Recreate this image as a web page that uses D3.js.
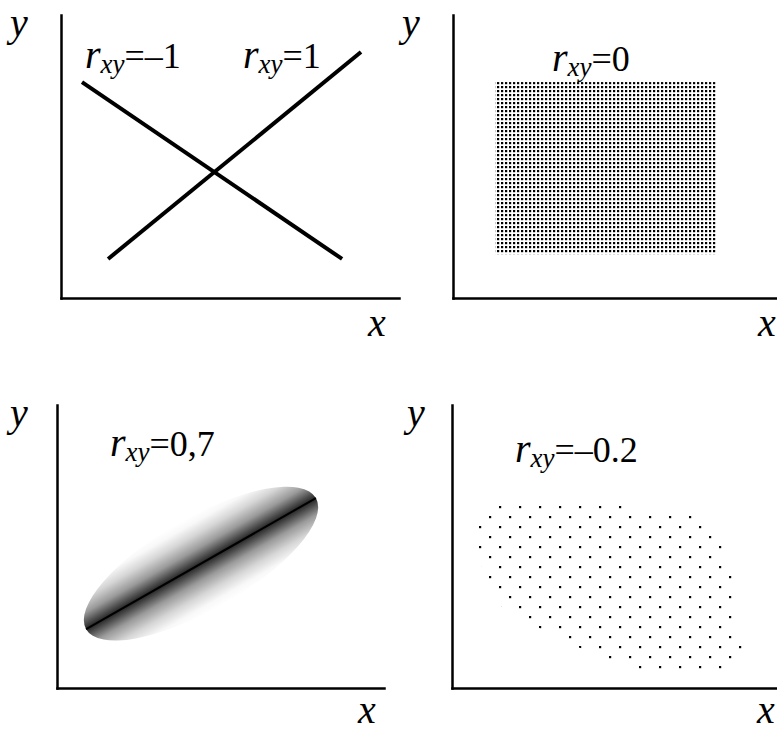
<!DOCTYPE html>
<html>
<head>
<meta charset="utf-8">
<script src="https://cdn.jsdelivr.net/npm/d3@7"></script>
</head>
<body style="margin:0">
<script>
/*
** Data - values, in axis units (x: 0..~11, y: 0..10)
*/
// panel A: two perfect correlations, straight lines
var lineNeg = [ { x: 0.70, y: 7.63 }, { x: 9.37, y: 1.38 } ]
  , linePos = [ { x: 1.57, y: 1.38 }, { x: 10.00, y: 8.69 } ]
;
// panel B: uniform cloud, no correlation
var cloudX = [1.40, 8.77]
  , cloudY = [1.55, 7.63]
;
// panel C: tight elliptical cloud, major axis end points + minor/major ratio
var ellipseAxis = [ { x: 0.97, y: 2.08 }, { x: 8.63, y: 6.71 } ]
  , ellipseRatio = 0.35
;
// panel D: weak negative cloud, outline of the dotted area
var weakCloud = [
      [1.50, 6.54], [5.93, 6.54], [6.00, 6.33], [8.27, 6.15], [8.67, 5.58]
    , [9.00, 5.05], [9.37, 3.99], [9.53, 1.70], [9.77, 1.34], [9.27, 0.60]
    , [6.10, 0.60], [4.93, 1.13], [3.60, 1.70], [2.43, 2.40], [1.77, 2.69]
    , [1.50, 3.11], [1.07, 3.99], [0.80, 5.05], [0.80, 5.87], [1.13, 6.22]
  ]
;
// correlation coefficients shown in each panel
var coefLabels = ["=\u20131", "=1", "=0", "=0,7", "=\u20130.2"];
var axisNames = { x: "x", y: "y" };

/*
** Layout
*/
var width = 777
  , height = 731
  , axisHeight = 283
  , unitX = 30 // px per x unit
  , panels = [
        { ox: 61,  oy: 298, len: 338, xl: 307, yl: -51, xb: 38 }
      , { ox: 453, oy: 298, len: 330, xl: 305, yl: -51, xb: 38 }
      , { ox: 57,  oy: 688, len: 327, xl: 301, yl: -47, xb: 35 }
      , { ox: 452, oy: 688, len: 330, xl: 305, yl: -45, xb: 35 }
    ]
  , labelPos = [
        { p: 0, dx: 24,  dy: -230 }
      , { p: 0, dx: 182, dy: -230 }
      , { p: 1, dx: 99,  dy: -227 }
      , { p: 2, dx: 53,  dy: -232 }
      , { p: 3, dx: 63,  dy: -226 }
    ]
;

var svg = d3.select("body").append("svg")
    .attr("width", width)
    .attr("height", height)
    .style("display", "block")
;

/*
** Texts - axis names and coefficient labels (default serif face)
*/
svg.selectAll("text.xname")
    .data(panels)
  .enter().append("text")
    .attr("class", "xname")
    .attr("x", function(d) { return d.ox + d.xl; })
    .attr("y", function(d) { return d.oy + d.xb; })
    .attr("font-size", 40)
    .attr("font-style", "italic")
    .text(axisNames.x)
;
svg.selectAll("text.yname")
    .data(panels)
  .enter().append("text")
    .attr("class", "yname")
    .attr("x", function(d) { return d.ox + d.yl; })
    .attr("y", function(d) { return d.oy - axisHeight + 21; })
    .attr("font-size", 40)
    .attr("font-style", "italic")
    .text(axisNames.y)
;
var lab = svg.selectAll("text.coef")
    .data(labelPos)
  .enter().append("text")
    .attr("class", "coef")
    .attr("x", function(d) { return panels[d.p].ox + d.dx; })
    .attr("y", function(d) { return panels[d.p].oy + d.dy; })
    .attr("font-size", 36)
;
lab.append("tspan")
    .attr("font-size", 40)
    .attr("font-style", "italic")
    .text("r")
;
lab.append("tspan")
    .attr("dy", 5)
    .attr("font-size", 27)
    .attr("font-style", "italic")
    .text("xy")
;
lab.append("tspan")
    .attr("dy", -5)
    .attr("font-size", 36)
    .text(function(d, i) { return coefLabels[i]; })
;

/*
** Fills
*/
var defs = svg.append("defs");

// dense dot texture (panel B)
defs.append("pattern")
    .attr("id", "dense")
    .attr("patternUnits", "userSpaceOnUse")
    .attr("width", 4).attr("height", 4)
  .append("rect")
    .attr("width", 2.2).attr("height", 2.2)
    .attr("fill", "#000")
;
// sparse staggered dot texture (panel D)
var sparse = defs.append("pattern")
    .attr("id", "sparse")
    .attr("patternUnits", "userSpaceOnUse")
    .attr("x", 33).attr("y", -186)
    .attr("width", 20).attr("height", 20)
;
sparse.selectAll("rect")
    .data([[14, 4], [4, 14]])
  .enter().append("rect")
    .attr("x", function(d) { return d[0]; })
    .attr("y", function(d) { return d[1]; })
    .attr("width", 2.2).attr("height", 2.2)
    .attr("fill", "#000")
;
// band gradient across the ellipse (panel C)
defs.append("linearGradient")
    .attr("id", "band")
    .attr("x1", 0).attr("y1", 0).attr("x2", 0).attr("y2", 1)
  .selectAll("stop")
    .data([
        [0, "#fff"], [0.08, "#f8f8f8"], [0.2, "#d6d6d6"], [0.34, "#9a9a9a"]
      , [0.44, "#505050"], [0.5, "#262626"], [0.56, "#505050"], [0.66, "#9a9a9a"]
      , [0.8, "#d6d6d6"], [0.92, "#f8f8f8"], [1, "#fff"]
    ])
  .enter().append("stop")
    .attr("offset", function(d) { return d[0]; })
    .attr("stop-color", function(d) { return d[1]; })
;

/*
** Panels
*/
var g = svg.selectAll("g.panel")
    .data(panels)
  .enter().append("g")
    .attr("class", "panel")
    .attr("transform", function(d) { return "translate(" + d.ox + "," + d.oy + ")"; })
    .each(function(d) {
        d.x = d3.scaleLinear().domain([0, d.len / unitX]).range([0, d.len]);
        d.y = d3.scaleLinear().domain([0, 10]).range([0, -axisHeight]);
      })
;

// panel A - the two lines
var line = d3.line()
    .x(function(d) { return panels[0].x(d.x); })
    .y(function(d) { return panels[0].y(d.y); })
;
g.filter(function(d, i) { return i === 0; })
  .selectAll("path.fit")
    .data([lineNeg, linePos])
  .enter().append("path")
    .attr("class", "fit")
    .attr("d", line)
    .attr("stroke", "#000")
    .attr("stroke-width", 4)
    .attr("fill", "none")
;

// panel B - dense rectangle
g.filter(function(d, i) { return i === 1; })
  .append("rect")
    .attr("x", function(d) { return d.x(cloudX[0]); })
    .attr("y", function(d) { return d.y(cloudY[1]); })
    .attr("width", function(d) { return d.x(cloudX[1]) - d.x(cloudX[0]); })
    .attr("height", function(d) { return d.y(cloudY[0]) - d.y(cloudY[1]); })
    .attr("fill", "url(#dense)")
;

// panel C - shaded ellipse with its axis
g.filter(function(d, i) { return i === 2; })
  .each(function(d) {
      var p0 = [d.x(ellipseAxis[0].x), d.y(ellipseAxis[0].y)]
        , p1 = [d.x(ellipseAxis[1].x), d.y(ellipseAxis[1].y)]
        , a = Math.hypot(p1[0] - p0[0], p1[1] - p0[1]) / 2
        , angle = Math.atan2(p1[1] - p0[1], p1[0] - p0[0]) * 180 / Math.PI
        , e = d3.select(this).append("g")
            .attr("transform", "translate(" + (p0[0] + p1[0]) / 2 + "," + (p0[1] + p1[1]) / 2
                + ") rotate(" + angle + ")")
      ;
      e.append("ellipse")
          .attr("rx", a)
          .attr("ry", a * ellipseRatio)
          .attr("fill", "url(#band)")
      ;
      e.append("line")
          .attr("x1", -a).attr("x2", a)
          .attr("stroke", "#000")
          .attr("stroke-width", 2)
      ;
    })
;

// panel D - sparse dotted area
g.filter(function(d, i) { return i === 3; })
  .append("path")
    .attr("d", function(d) {
        return d3.line()
            .x(function(v) { return d.x(v[0]); })
            .y(function(v) { return d.y(v[1]); })
            .curve(d3.curveLinearClosed)(weakCloud);
      })
    .attr("fill", "url(#sparse)")
;

// axes - only the domain lines are drawn
g.each(function(d) {
    var sel = d3.select(this);
    [d3.axisBottom(d.x), d3.axisLeft(d.y)].forEach(function(ax) {
        sel.append("g")
            .call(ax.tickValues([]).tickSizeOuter(0))
            .attr("font-family", null)
            .attr("font-size", null)
          .select(".domain")
            .attr("stroke", "#000")
            .attr("stroke-width", 2.5)
            .attr("stroke-linecap", "square")
        ;
      });
  })
;
</script>
</body>
</html>
